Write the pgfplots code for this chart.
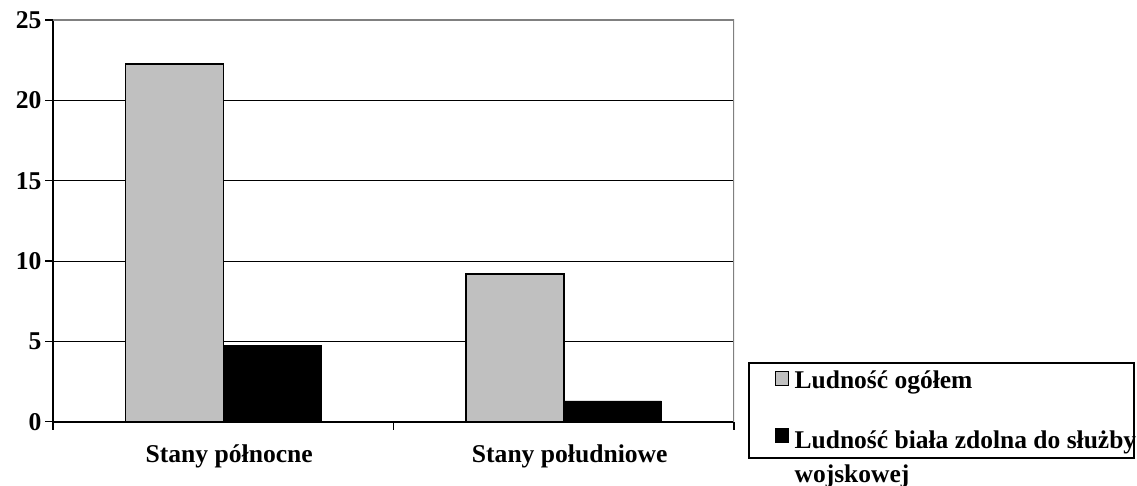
\documentclass[border=0pt]{standalone}
\usepackage{fontspec}
\setmainfont{Liberation Serif}
\usepackage{pgfplots}
\pgfplotsset{compat=1.18}
\definecolor{barGray}{RGB}{192,192,192}
\definecolor{frameGray}{RGB}{128,128,128}

\begin{document}
\begin{tikzpicture}
\useasboundingbox (0pt,0pt) rectangle (1137pt,-486pt);
\clip (0pt,0pt) rectangle (1137pt,-486pt);
\begin{axis}[
  at={(53pt,-421.7pt)}, anchor=south west,
  width=681pt, height=401.7pt, scale only axis,
  xmin=-0.5, xmax=1.5, ymin=0, ymax=25,
  axis x line*=bottom, axis y line*=left,
  axis line style={line width=2pt, black},
  ybar=0pt, bar width=0.287,
  xtick={-0.5,0.5,1.5}, xticklabels={},
  extra x ticks={0,1},
  extra x tick labels={Stany północne,Stany południowe},
  extra x tick style={major tick length=0pt,
    xticklabel style={anchor=base, yshift=-41pt, xshift=6pt}},
  ytick={0,5,10,15,20,25},
  ymajorgrids, grid style={black, line width=1pt},
  tick align=outside, major tick length=8pt,
  tick style={black, line width=1.5pt},
  tick label style={font=\fontsize{25.6}{30}\selectfont\bfseries},
  /pgf/number format/assume math mode=true,
  legend style={at={(1.0205,0.1486)}, anchor=north west,
    draw=black, line width=1.8pt, fill=white,
    font=\fontsize{25.5}{33.5}\selectfont\bfseries,
    cells={anchor=west}, row sep=31pt,
    inner xsep=6pt, inner ysep=6pt},
  legend image code/.code={%
    \path (-20pt,0pt) (16pt,0pt);
    \draw[#1, line width=1pt] (0pt,-5pt) rectangle (13pt,9pt);},
]
\addplot[fill=barGray, draw=black, line width=1.5pt] coordinates {(0,22.25) (1,9.2)};
\addplot[fill=black, draw=black] coordinates {(0,4.73) (1,1.3)};
\draw[frameGray, line width=2pt] (rel axis cs:0,1) -- (rel axis cs:1,1) -- (rel axis cs:1,0);
\addlegendentry{Ludność ogółem}
\addlegendentry{\begin{tabular}[t]{@{}l@{}}\makebox[331pt][l]{Ludność biała zdolna do służby}\\wojskowej\rule[-16pt]{0pt}{0pt}\end{tabular}}
\end{axis}
\end{tikzpicture}
\end{document}
